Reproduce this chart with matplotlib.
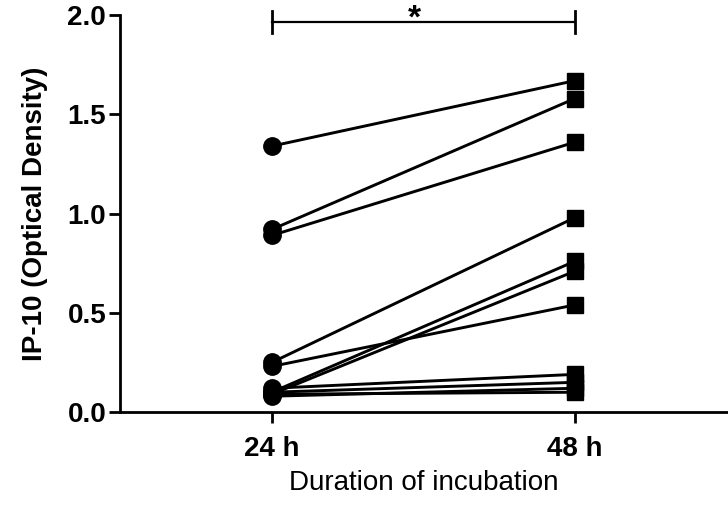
import matplotlib.pyplot as plt

# Paired IP-10 optical density readings, 24 h vs 48 h incubation
groups = ["24 h", "48 h"]
od_24h = [1.34, 0.92, 0.89, 0.25, 0.23, 0.10, 0.09, 0.12, 0.10, 0.08, 0.09]
od_48h = [1.67, 1.58, 1.36, 0.98, 0.54, 0.76, 0.71, 0.19, 0.15, 0.12, 0.10]
y_ticks = [0.0, 0.5, 1.0, 1.5, 2.0]
sig_label = "*"

plt.rcParams['font.family'] = ['Liberation Sans', 'DejaVu Sans']

fig = plt.figure(figsize=(7.28, 5.05), dpi=100)
ax = fig.add_axes([0.165, 0.184, 0.833, 0.786])

for a, b in zip(od_24h, od_48h):
    ax.plot([0, 1], [a, b], color="black", lw=2.1, zorder=2)
ax.plot([0] * len(od_24h), od_24h, "o", color="black", ms=12.5, zorder=3, clip_on=False)
ax.plot([1] * len(od_48h), od_48h, "s", color="black", ms=12, zorder=3, clip_on=False)

# significance bracket
ybar = 1.965
ax.plot([0, 1], [ybar, ybar], color="black", lw=1.6, clip_on=False)
for xx in (0, 1):
    ax.plot([xx, xx], [ybar - 0.055, ybar + 0.055], color="black", lw=2, clip_on=False)
# asterisk glyph sits high in the em box, so anchor its baseline below the bar
ax.text(0.47, 1.937, sig_label, ha="center", va="baseline", fontsize=24, fontweight="bold")

ax.set_xlim(-0.5, 1.5)
ax.set_ylim(0, 2.0)
ax.set_xticks([0, 1])
ax.set_xticklabels(groups, fontsize=20, fontweight="bold")
ax.set_yticks(y_ticks)
ax.set_yticklabels([f"{t:.1f}" for t in y_ticks], fontsize=20, fontweight="bold")
ax.tick_params(axis="y", direction="out", length=8, width=2, pad=2)
ax.tick_params(axis="x", direction="out", length=8, width=2, pad=9)

for s in ("top", "right"):
    ax.spines[s].set_visible(False)
for s in ("left", "bottom"):
    ax.spines[s].set_linewidth(2)

ax.set_ylabel("IP-10 (Optical Density)", fontsize=20, fontweight="bold", labelpad=14)
ax.set_xlabel("Duration of incubation", fontsize=20, labelpad=6)

fig.savefig("out.png", dpi=100)
